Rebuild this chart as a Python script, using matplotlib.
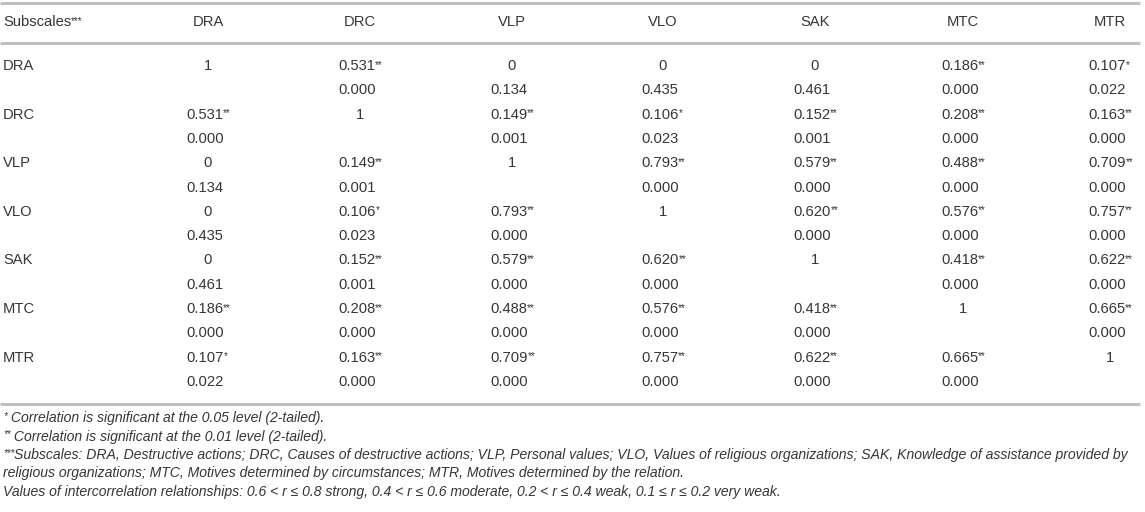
import matplotlib
matplotlib.use("Agg")
import matplotlib.pyplot as plt

plt.rcParams['font.family'] = ['Liberation Sans', 'DejaVu Sans']

labels = ['DRA', 'DRC', 'VLP', 'VLO', 'SAK', 'MTC', 'MTR']

# correlation coefficients (rows x columns)
r_vals = [
    [1, 0.531, 0, 0, 0, 0.186, 0.107],
    [0.531, 1, 0.149, 0.106, 0.152, 0.208, 0.163],
    [0, 0.149, 1, 0.793, 0.579, 0.488, 0.709],
    [0, 0.106, 0.793, 1, 0.620, 0.576, 0.757],
    [0, 0.152, 0.579, 0.620, 1, 0.418, 0.622],
    [0.186, 0.208, 0.488, 0.576, 0.418, 1, 0.665],
    [0.107, 0.163, 0.709, 0.757, 0.622, 0.665, 1],
]

# significance (2-tailed p), None on the diagonal
p_vals = [
    [None, 0.000, 0.134, 0.435, 0.461, 0.000, 0.022],
    [0.000, None, 0.001, 0.023, 0.001, 0.000, 0.000],
    [0.134, 0.001, None, 0.000, 0.000, 0.000, 0.000],
    [0.435, 0.023, 0.000, None, 0.000, 0.000, 0.000],
    [0.461, 0.001, 0.000, 0.000, None, 0.000, 0.000],
    [0.000, 0.000, 0.000, 0.000, 0.000, None, 0.000],
    [0.022, 0.000, 0.000, 0.000, 0.000, 0.000, None],
]

# number of stars after each coefficient
stars = [
    [0, 2, 0, 0, 0, 2, 1],
    [2, 0, 2, 1, 2, 2, 2],
    [0, 2, 0, 2, 2, 2, 2],
    [0, 1, 2, 0, 2, 2, 2],
    [0, 2, 2, 2, 0, 2, 2],
    [2, 2, 2, 2, 2, 0, 2],
    [1, 2, 2, 2, 2, 2, 0],
]

footnotes = [
    ('*', ' Correlation is significant at the 0.05 level (2-tailed).'),
    ('**', ' Correlation is significant at the 0.01 level (2-tailed).'),
    ('***', 'Subscales: DRA, Destructive actions; DRC, Causes of destructive actions; VLP, Personal values; '
            'VLO, Values of religious organizations; SAK, Knowledge of assistance provided by'),
    ('', 'religious organizations; MTC, Motives determined by circumstances; MTR, Motives determined by the relation.'),
    ('', 'Values of intercorrelation relationships: 0.6 < r \u2264 0.8 strong, 0.4 < r \u2264 0.6 moderate, '
         '0.2 < r \u2264 0.4 weak, 0.1 \u2264 r \u2264 0.2 very weak.'),
]

W, H = 1145, 512
fig = plt.figure(figsize=(W / 100, H / 100), dpi=100)
ax = fig.add_axes([0, 0, 1, 1])
ax.set_xlim(0, W)
ax.set_ylim(H, 0)
ax.axis('off')

txt = '#363636'
line_c = '#c0c0c0'
fs = 10.6
star_fs = 7
note_fs = 10.1

col_mid = [208, 360, 512, 663, 815, 963, 1110]
col_left = [x - 22 for x in col_mid]
y_head = 22
y_row0 = 66
row_h = 24.3


def fmt(v):
    if v == 1:
        return '1'
    if v == 0:
        return '0'
    return '%.3f' % v


def with_stars(x, y, s, n, **kw):
    t = ax.text(x, y, s, ha='left', va='center', fontsize=fs, color=txt, **kw)
    if n:
        ax.annotate('*' * n, xy=(1, 0.95), xycoords=t, ha='left', va='top',
                    fontsize=star_fs, color=txt, **kw)
    return t


# rules
for y in [3, 43, 404]:
    ax.plot([0, 1140], [y, y], color=line_c, lw=2.2, solid_capstyle='butt')

# header
with_stars(3, y_head, 'Subscales', 3)
for j, lab in enumerate(labels):
    ax.text(col_mid[j], y_head, lab, ha='center', va='center', fontsize=fs, color=txt)

# body
for i, lab in enumerate(labels):
    y_r = y_row0 + 2 * i * row_h
    y_p = y_r + row_h
    ax.text(3, y_r, lab, ha='left', va='center', fontsize=fs, color=txt)
    for j in range(len(labels)):
        v = r_vals[i][j]
        if v in (0, 1):
            ax.text(col_mid[j], y_r, fmt(v), ha='center', va='center', fontsize=fs, color=txt)
        else:
            with_stars(col_left[j], y_r, fmt(v), stars[i][j])
        if p_vals[i][j] is not None:
            ax.text(col_left[j], y_p, '%.3f' % p_vals[i][j], ha='left', va='center',
                    fontsize=fs, color=txt)

# footnotes: small raised marks, then the italic note
renderer = fig.canvas.get_renderer()
y_f = 418
for mark, note in footnotes:
    x0 = 3
    if mark:
        m = ax.text(3, y_f - 7, mark, ha='left', va='top', fontsize=star_fs, color=txt,
                    style='italic')
        x0 = 3 + m.get_window_extent(renderer).width
    ax.text(x0, y_f, note, ha='left', va='center', fontsize=note_fs, color=txt,
            style='italic')
    y_f += 18.5

fig.savefig('out.png', dpi=100)
